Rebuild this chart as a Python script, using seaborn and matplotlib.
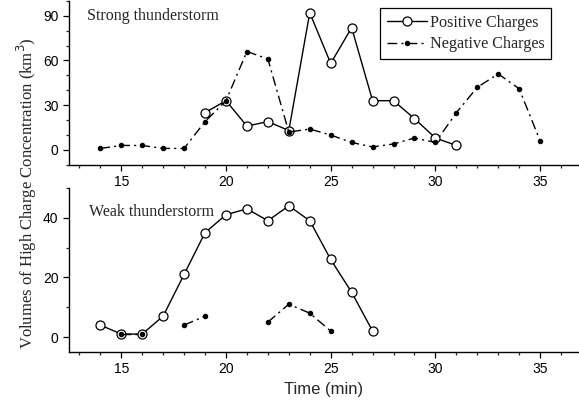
import numpy as np
import pandas as pd
import matplotlib
matplotlib.use("Agg")
import matplotlib.pyplot as plt
from matplotlib.ticker import MultipleLocator
import seaborn as sns

sns.set_style("ticks")
plt.rcParams['font.family'] = ['Liberation Sans', 'DejaVu Sans']

# strong thunderstorm
strong_pos_t = [19, 20, 21, 22, 23, 24, 25, 26, 27, 28, 29, 30, 31]
strong_pos_v = [25, 33, 16, 19, 13, 92, 58, 82, 33, 33, 21, 8, 3]
strong_neg_t = [14, 15, 16, 17, 18, 19, 20, 21, 22, 23, 24, 25, 26, 27, 28, 29, 30, 31, 32, 33, 34, 35]
strong_neg_v = [1, 3, 3, 1, 1, 19, 33, 66, 61, 12, 14, 10, 5, 2, 4, 8, 5, 25, 42, 51, 41, 6]

# weak thunderstorm (negative has gaps)
weak_pos_t = [14, 15, 16, 17, 18, 19, 20, 21, 22, 23, 24, 25, 26, 27]
weak_pos_v = [4, 1, 1, 7, 21, 35, 41, 43, 39, 44, 39, 26, 15, 2]
weak_neg_t = [15, 16, 18, 19, 22, 23, 24, 25]
weak_neg_v = [1, 1, 4, 7, 5, 11, 8, 2]
weak_neg_seg = [0, 0, 1, 1, 2, 2, 2, 2]

serif = ['Liberation Serif', 'DejaVu Serif']
dashdot = (0, (7, 3, 1.5, 3))

fig = plt.figure(figsize=(5.79, 4.05), dpi=100)
ax1 = fig.add_axes([0.119, 0.593, 0.879, 0.405])
ax2 = fig.add_axes([0.119, 0.131, 0.879, 0.405])

pos_kw = dict(color='black', lw=1.0, marker='o', markersize=6.5,
              markerfacecolor='white', markeredgecolor='black', markeredgewidth=0.9)
neg_kw = dict(color='black', lw=1.0, linestyle=dashdot, marker='o', markersize=3.2,
              markerfacecolor='black', markeredgecolor='black')

df_sp = pd.DataFrame({'t': strong_pos_t, 'v': strong_pos_v})
df_sn = pd.DataFrame({'t': strong_neg_t, 'v': strong_neg_v})
sns.lineplot(data=df_sp, x='t', y='v', ax=ax1, label='Positive Charges', **pos_kw)
sns.lineplot(data=df_sn, x='t', y='v', ax=ax1, label='Negative Charges', **neg_kw)

df_wp = pd.DataFrame({'t': weak_pos_t, 'v': weak_pos_v})
df_wn = pd.DataFrame({'t': weak_neg_t, 'v': weak_neg_v, 'seg': weak_neg_seg})
sns.lineplot(data=df_wp, x='t', y='v', ax=ax2, **pos_kw)
sns.lineplot(data=df_wn, x='t', y='v', units='seg', estimator=None, ax=ax2, **neg_kw)

ax1.set_ylim(-10, 100)
ax2.set_ylim(-5, 50)
for ax in (ax1, ax2):
    ax.set_xlim(12.5, 36.8)
    ax.xaxis.set_major_locator(MultipleLocator(5))
    ax.xaxis.set_minor_locator(MultipleLocator(1))
    ax.yaxis.set_minor_locator(MultipleLocator(10))
    ax.tick_params(which='major', direction='out', length=4.5, width=0.9, labelsize=10,
                   colors='black', pad=3)
    ax.tick_params(which='minor', direction='out', length=2.5, width=0.9)
    for s in ('top', 'right'):
        ax.spines[s].set_visible(False)
    for s in ('left', 'bottom'):
        ax.spines[s].set_linewidth(1.0)
        ax.spines[s].set_color('black')
    ax.set_ylabel('')
    ax.set_xlabel('')
ax1.yaxis.set_major_locator(MultipleLocator(30))
ax2.yaxis.set_major_locator(MultipleLocator(20))

ax2.set_xlabel('Time (min)', fontsize=12)

ax1.text(0.035, 0.955, 'Strong thunderstorm', transform=ax1.transAxes,
         fontsize=11.5, family=serif, va='top', ha='left')
ax2.text(0.039, 0.90, 'Weak thunderstorm', transform=ax2.transAxes,
         fontsize=11.5, family=serif, va='top', ha='left')

handles, labels = ax1.get_legend_handles_labels()
uniq = dict(zip(labels, handles))
leg = ax1.legend(uniq.values(), uniq.keys(), loc='upper right', bbox_to_anchor=(0.948, 0.955),
                 prop={'family': serif, 'size': 11.6}, frameon=True, fancybox=False,
                 framealpha=1, edgecolor='black', borderpad=0.4, labelspacing=0.35,
                 handlelength=2.5, handletextpad=0.2, borderaxespad=0)
leg.get_frame().set_linewidth(0.9)

fig.text(0.047, 0.523, 'Volumes of High Charge Concentration (km$^3$)', rotation=90,
         ha='center', va='center', fontsize=12, family=serif)

fig.savefig('out.png', dpi=100)
